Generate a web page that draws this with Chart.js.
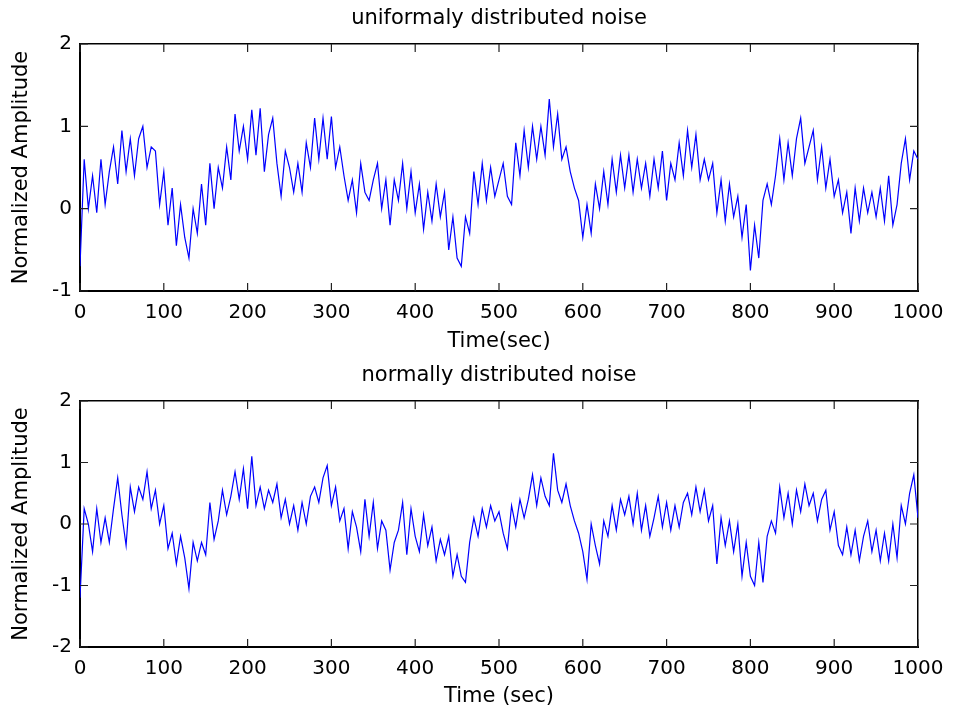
<!DOCTYPE html>
<html>
<head>
<meta charset="utf-8">
<script src="https://cdn.jsdelivr.net/npm/chart.js@4"></script>
<style>
  html, body { margin: 0; padding: 0; background: #fff; }
  .panel { position: absolute; left: 0; width: 953px; }
</style>
</head>
<body>
<div class="panel" style="top:0;height:358px"><canvas id="uniformChart" width="953" height="358"></canvas></div>
<div class="panel" style="top:358px;height:357px"><canvas id="normalChart" width="953" height="357"></canvas></div>
<script>
'use strict';

// sample times (sec)
const timeSec = [
  0, 5, 10, 15, 20, 25, 30, 35, 40, 45, 50, 55, 60, 65, 70, 75, 80, 85, 90, 95,
  100, 105, 110, 115, 120, 125, 130, 135, 140, 145, 150, 155, 160, 165, 170, 175, 180, 185, 190, 195,
  200, 205, 210, 215, 220, 225, 230, 235, 240, 245, 250, 255, 260, 265, 270, 275, 280, 285, 290, 295,
  300, 305, 310, 315, 320, 325, 330, 335, 340, 345, 350, 355, 360, 365, 370, 375, 380, 385, 390, 395,
  400, 405, 410, 415, 420, 425, 430, 435, 440, 445, 450, 455, 460, 465, 470, 475, 480, 485, 490, 495,
  500, 505, 510, 515, 520, 525, 530, 535, 540, 545, 550, 555, 560, 565, 570, 575, 580, 585, 590, 595,
  600, 605, 610, 615, 620, 625, 630, 635, 640, 645, 650, 655, 660, 665, 670, 675, 680, 685, 690, 695,
  700, 705, 710, 715, 720, 725, 730, 735, 740, 745, 750, 755, 760, 765, 770, 775, 780, 785, 790, 795,
  800, 805, 810, 815, 820, 825, 830, 835, 840, 845, 850, 855, 860, 865, 870, 875, 880, 885, 890, 895,
  900, 905, 910, 915, 920, 925, 930, 935, 940, 945, 950, 955, 960, 965, 970, 975, 980, 985, 990, 995,
  1000
];

// uniformly distributed noise
const uniformNoise = [
  -0.7, 0.6, 0.0, 0.4, -0.05, 0.6, 0.05, 0.45, 0.75, 0.3,
  0.95, 0.45, 0.85, 0.4, 0.85, 1.0, 0.5, 0.75, 0.7, 0.05,
  0.45, -0.2, 0.25, -0.45, 0.05, -0.35, -0.6, 0.0, -0.3, 0.3,
  -0.2, 0.55, 0.0, 0.5, 0.25, 0.75, 0.35, 1.15, 0.7, 1.0,
  0.6, 1.2, 0.65, 1.22, 0.45, 0.9, 1.1, 0.55, 0.15, 0.7,
  0.5, 0.2, 0.55, 0.2, 0.8, 0.5, 1.1, 0.6, 1.1, 0.6,
  1.12, 0.5, 0.75, 0.4, 0.1, 0.35, -0.05, 0.55, 0.2, 0.1,
  0.35, 0.55, 0.0, 0.35, -0.2, 0.35, 0.1, 0.55, 0.0, 0.45,
  -0.05, 0.3, -0.25, 0.2, -0.15, 0.3, -0.1, 0.2, -0.5, -0.1,
  -0.6, -0.7, -0.1, -0.3, 0.45, 0.05, 0.55, 0.1, 0.5, 0.15,
  0.35, 0.55, 0.15, 0.05, 0.8, 0.4, 0.95, 0.5, 1.0, 0.6,
  1.0, 0.65, 1.33, 0.75, 1.15, 0.6, 0.75, 0.45, 0.25, 0.1,
  -0.35, 0.05, -0.3, 0.3, 0.0, 0.45, 0.05, 0.6, 0.2, 0.65,
  0.25, 0.65, 0.2, 0.6, 0.25, 0.55, 0.15, 0.6, 0.25, 0.7,
  0.1, 0.55, 0.35, 0.8, 0.4, 0.95, 0.5, 0.9, 0.35, 0.6,
  0.35, 0.55, -0.05, 0.35, -0.15, 0.3, -0.1, 0.15, -0.35, 0.05,
  -0.75, -0.2, -0.6, 0.1, 0.3, 0.05, 0.4, 0.85, 0.35, 0.8,
  0.4, 0.85, 1.1, 0.55, 0.75, 0.95, 0.35, 0.75, 0.25, 0.6,
  0.15, 0.35, -0.05, 0.2, -0.3, 0.25, -0.15, 0.25, -0.05, 0.2,
  -0.1, 0.25, -0.15, 0.4, -0.2, 0.05, 0.55, 0.85, 0.35, 0.7,
  0.6
];

// normally distributed noise
const normalNoise = [
  -1.2, 0.25, 0.0, -0.45, 0.25, -0.3, 0.1, -0.3, 0.25, 0.75,
  0.15, -0.35, 0.6, 0.2, 0.6, 0.4, 0.85, 0.25, 0.55, 0.0,
  0.3, -0.4, -0.15, -0.65, -0.2, -0.55, -1.05, -0.3, -0.6, -0.3,
  -0.5, 0.35, -0.25, 0.05, 0.55, 0.15, 0.45, 0.85, 0.4, 0.9,
  0.25, 1.1, 0.3, 0.6, 0.25, 0.55, 0.35, 0.65, 0.1, 0.4,
  0.0, 0.3, -0.1, 0.35, 0.0, 0.45, 0.6, 0.35, 0.75, 0.95,
  0.3, 0.6, 0.05, 0.25, -0.4, 0.2, -0.05, -0.45, 0.4, -0.2,
  0.35, -0.4, 0.05, -0.1, -0.75, -0.3, -0.1, 0.35, -0.5, 0.25,
  -0.2, -0.45, 0.15, -0.35, -0.05, -0.6, -0.25, -0.5, -0.2, -0.85,
  -0.5, -0.85, -0.95, -0.3, 0.1, -0.2, 0.25, -0.05, 0.3, 0.05,
  0.2, -0.15, -0.4, 0.3, -0.05, 0.4, 0.1, 0.4, 0.8, 0.3,
  0.75, 0.45, 0.3, 1.15, 0.55, 0.35, 0.65, 0.3, 0.05, -0.15,
  -0.45, -0.9, 0.0, -0.35, -0.65, 0.05, -0.2, 0.3, -0.1, 0.4,
  0.15, 0.45, 0.0, 0.5, -0.1, 0.3, -0.2, 0.1, 0.45, -0.05,
  0.35, -0.1, 0.3, -0.05, 0.35, 0.5, 0.15, 0.6, 0.2, 0.55,
  0.05, 0.3, -0.65, 0.1, -0.35, 0.05, -0.45, 0.0, -0.85, -0.3,
  -0.85, -1.0, -0.3, -0.95, -0.2, 0.05, -0.15, 0.6, 0.1, 0.5,
  0.0, 0.55, 0.2, 0.65, 0.3, 0.5, 0.05, 0.4, 0.55, -0.1,
  0.2, -0.35, -0.5, -0.05, -0.5, -0.1, -0.6, -0.2, 0.05, -0.45,
  -0.1, -0.6, -0.15, -0.6, 0.0, -0.55, 0.3, 0.0, 0.5, 0.8,
  0.1
];

const FONT = 'DejaVu Sans';

// MATLAB-artige Ticks nach innen, auf allen vier Seiten
const inwardTicks = {
  id: 'inwardTicks',
  afterDatasetsDraw(chart) {
    const { ctx, chartArea: a, scales: { x, y } } = chart;
    const len = 8;
    ctx.save();
    ctx.strokeStyle = '#222';
    ctx.lineWidth = 1.2;
    ctx.beginPath();
    x.ticks.forEach(t => {
      const px = x.getPixelForValue(t.value);
      ctx.moveTo(px, a.bottom); ctx.lineTo(px, a.bottom - len);
      ctx.moveTo(px, a.top); ctx.lineTo(px, a.top + len);
    });
    y.ticks.forEach(t => {
      const py = y.getPixelForValue(t.value);
      ctx.moveTo(a.left, py); ctx.lineTo(a.left + len, py);
      ctx.moveTo(a.right, py); ctx.lineTo(a.right - len, py);
    });
    ctx.stroke();
    ctx.restore();
  }
};

function createPanel(canvasId, title, xLabel, values, yMin, yMax, geom) {
  const ctx = document.getElementById(canvasId).getContext('2d');
  const points = timeSec.map((t, i) => ({ x: t, y: values[i] }));
  const border = w => ({ display: true, color: '#000', width: w });
  const plain = v => String(v);

  new Chart(ctx, {
    type: 'line',
    data: {
      datasets: [{
        data: points,
        borderColor: '#0000ff',
        borderWidth: 1.2,
        pointRadius: 0,
        tension: 0,
        fill: false
      }]
    },
    options: {
      responsive: false,
      animation: false,
      layout: { padding: 0 },
      plugins: { legend: { display: false }, tooltip: { enabled: false } },
      scales: {
        x: {
          type: 'linear', position: 'bottom', min: 0, max: 1000,
          ticks: { stepSize: 100, color: '#000', padding: geom.xTickPad, maxRotation: 0,
                   callback: plain, font: { family: FONT, size: 20, lineHeight: 1 } },
          grid: { display: false, drawTicks: false },
          border: border(2),
          title: { display: true, text: xLabel, color: '#000',
                   font: { family: FONT, size: 21, lineHeight: 1 },
                   padding: { top: 0, bottom: geom.xTitlePad } },
          afterFit: s => { s.height = geom.bottomH; s.paddingRight = 0; }
        },
        x2: {
          type: 'linear', position: 'top', min: 0, max: 1000,
          ticks: { display: false, stepSize: 100 },
          grid: { display: false, drawTicks: false },
          border: border(1.5),
          title: { display: true, text: title, color: '#000',
                   font: { family: FONT, size: 21, lineHeight: 1 },
                   padding: { top: geom.titlePad, bottom: 0 } },
          afterFit: s => { s.height = geom.topH; }
        },
        y: {
          type: 'linear', position: 'left', min: yMin, max: yMax,
          ticks: { stepSize: 1, color: '#000', padding: 8,
                   callback: plain, font: { family: FONT, size: 20, lineHeight: 1 } },
          grid: { display: false, drawTicks: false },
          border: border(2),
          title: { display: true, text: 'Normalized Amplitude', color: '#000',
                   font: { family: FONT, size: 21, lineHeight: 1 },
                   padding: { top: 11.5, bottom: 0 } },
          afterFit: s => { s.width = 80; }
        },
        y2: {
          type: 'linear', position: 'right', min: yMin, max: yMax,
          ticks: { display: false, stepSize: 1 },
          grid: { display: false, drawTicks: false },
          border: border(1.5),
          afterFit: s => { s.width = 35; }
        }
      }
    },
    plugins: [inwardTicks]
  });
}

createPanel('uniformChart', 'uniformaly distributed noise', 'Time(sec)', uniformNoise, -1, 2,
  { topH: 44, bottomH: 67, titlePad: 8.5, xTickPad: 11.5, xTitlePad: 5.5 });
createPanel('normalChart', 'normally distributed noise', 'Time (sec)', normalNoise, -2, 2,
  { topH: 43, bottomH: 68, titlePad: 7.5, xTickPad: 11.5, xTitlePad: 7.5 });
</script>
</body>
</html>
